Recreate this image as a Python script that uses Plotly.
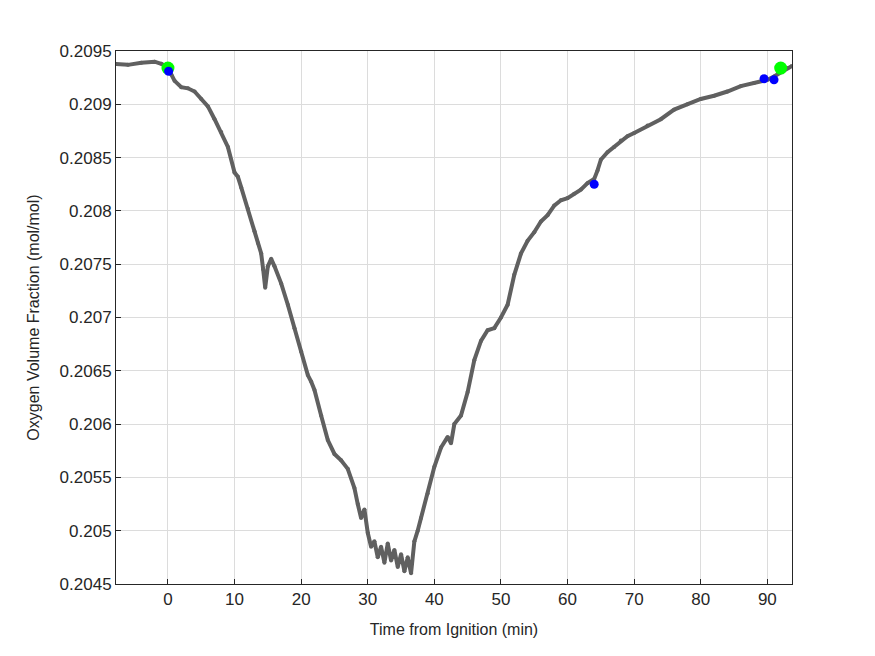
import plotly.graph_objects as go

# Oxygen trace (time in min, O2 fraction)
time_min = [-8, -6, -4, -2, -1, 0, 0.5, 1, 2, 3, 4, 5, 6, 7, 8, 9, 10, 10.5, 11, 12, 13,
            13.5, 14, 14.3, 14.6, 15, 15.5, 16, 17, 18, 19, 20, 21, 21.5, 22, 23, 24, 25,
            26, 27, 28, 28.5, 29, 29.5, 30, 30.5, 31, 31.5, 32, 32.5, 33, 33.5, 34, 34.5,
            35, 35.5, 36, 36.5, 37, 37.5, 38, 39, 40, 41, 42, 42.5, 43, 44, 45, 46, 47,
            48, 49, 50, 51, 52, 53, 54, 55, 56, 57, 58, 59, 60, 61, 62, 63, 64, 64.5, 65,
            66, 67, 68, 69, 70, 72, 74, 76, 78, 80, 82, 84, 86, 88, 90, 91, 92, 93, 93.7]
o2_frac = [0.20938, 0.20937, 0.20939, 0.20940, 0.20938, 0.20935, 0.20928, 0.20922, 0.20916,
           0.20915, 0.20912, 0.20905, 0.20898, 0.20886, 0.20874, 0.20860, 0.20836, 0.20832,
           0.20822, 0.20802, 0.20781, 0.20770, 0.20760, 0.20745, 0.20728, 0.20748, 0.20755,
           0.20748, 0.20732, 0.20712, 0.20690, 0.20668, 0.20646, 0.20640, 0.20632, 0.20608,
           0.20585, 0.20572, 0.20566, 0.20558, 0.20540, 0.20525, 0.20512, 0.20520, 0.20498,
           0.20485, 0.20490, 0.20475, 0.20485, 0.20470, 0.20488, 0.20472, 0.20482, 0.20466,
           0.20478, 0.20462, 0.20475, 0.20460, 0.20490, 0.20500, 0.20512, 0.20535, 0.20560,
           0.20578, 0.20588, 0.20582, 0.20600, 0.20608, 0.20630, 0.20660, 0.20678, 0.20688,
           0.20690, 0.20700, 0.20712, 0.20740, 0.20760, 0.20772, 0.20780, 0.20790, 0.20796,
           0.20805, 0.20810, 0.20812, 0.20816, 0.20820, 0.20826, 0.20830, 0.20838, 0.20848,
           0.20855, 0.20860, 0.20866, 0.20870, 0.20873, 0.20880, 0.20886, 0.20895, 0.20900,
           0.20905, 0.20908, 0.20912, 0.20917, 0.20920, 0.20923, 0.20926, 0.20930, 0.20934,
           0.20936]

green_t = [0, 92]
green_o2 = [0.20934, 0.20934]
blue_t = [0.1, 64, 89.5, 91]
blue_o2 = [0.20931, 0.20825, 0.20924, 0.20923]

y_ticks = [0.2045, 0.205, 0.2055, 0.206, 0.2065, 0.207, 0.2075, 0.208, 0.2085, 0.209, 0.2095]
y_labels = ["0.2045", "0.205", "0.2055", "0.206", "0.2065", "0.207", "0.2075", "0.208",
            "0.2085", "0.209", "0.2095"]
x_ticks = [0, 10, 20, 30, 40, 50, 60, 70, 80, 90]

fig = go.Figure()
fig.add_trace(go.Scatter(x=time_min, y=o2_frac, mode="lines+markers",
                         line=dict(color="#606060", width=4),
                         marker=dict(color="#606060", size=4), showlegend=False))
fig.add_trace(go.Scatter(x=green_t, y=green_o2, mode="markers",
                         marker=dict(color="#00ff00", size=13), showlegend=False))
fig.add_trace(go.Scatter(x=blue_t, y=blue_o2, mode="markers",
                         marker=dict(color="#0000ff", size=9), showlegend=False))

axis_style = dict(showline=True, linecolor="#262626", linewidth=1, mirror=True,
                  showgrid=True, gridcolor="#dcdcdc", zeroline=False, ticks="inside",
                  ticklen=5, tickcolor="#262626", tickfont=dict(size=17, color="#262626"))
fig.update_xaxes(range=[-7.8, 93.7], tickvals=x_ticks,
                 title=dict(text="Time from Ignition (min)", font=dict(size=16, color="#262626")),
                 **axis_style)
fig.update_yaxes(range=[0.2045, 0.2095], tickvals=y_ticks, ticktext=y_labels,
                 title=dict(text="Oxygen Volume Fraction (mol/mol)", font=dict(size=16, color="#262626")),
                 **axis_style)
fig.update_layout(width=875, height=656, plot_bgcolor="white", paper_bgcolor="white",
                  font=dict(family="Liberation Sans, Arial"),
                  margin=dict(l=108, r=91, t=43, b=80))
fig.write_html("out.html")
